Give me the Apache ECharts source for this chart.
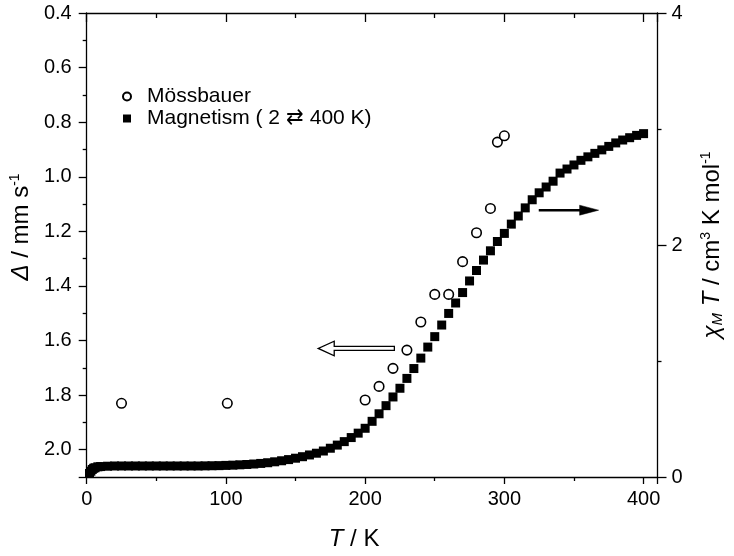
<!DOCTYPE html>
<html>
<head>
<meta charset="utf-8">
<script src="https://cdn.jsdelivr.net/npm/echarts@6/dist/echarts.min.js"></script>
<style>html,body{margin:0;padding:0;background:#fff;}#c{width:734px;height:556px;}</style>
</head>
<body>
<div id="c"></div>
<script>
// Mössbauer quadrupole splitting (left axis, inverted)
var mossT = [25, 101, 200, 210, 220, 230, 240, 250, 260, 270, 280, 290, 295, 300];
var mossDelta = [1.83, 1.83, 1.818, 1.768, 1.702, 1.635, 1.532, 1.431, 1.431, 1.311, 1.205, 1.116, 0.873, 0.850];

// Magnetism chiM*T (right axis)
var magT = [2, 3, 4, 5, 6, 8, 10, 15, 20, 25, 30, 35, 40, 45, 50, 55, 60, 65, 70, 75, 80, 85, 90, 95, 100,
  105, 110, 115, 120, 125, 130, 135, 140, 145, 150, 155, 160, 165, 170, 175, 180, 185, 190, 195, 200,
  205, 210, 215, 220, 225, 230, 235, 240, 245, 250, 255, 260, 265, 270, 275, 280, 285, 290, 295, 300,
  305, 310, 315, 320, 325, 330, 335, 340, 345, 350, 355, 360, 365, 370, 375, 380, 385, 390, 395, 400];
var magChiT = [0.03, 0.05, 0.065, 0.075, 0.08, 0.088, 0.09, 0.093, 0.095, 0.095, 0.095, 0.095, 0.095, 0.095, 0.095, 0.095, 0.095, 0.095, 0.095, 0.095, 0.095, 0.096, 0.097, 0.098, 0.1,
  0.102, 0.105, 0.108, 0.112, 0.117, 0.123, 0.131, 0.14, 0.15, 0.162, 0.175, 0.19, 0.205, 0.224, 0.248, 0.275, 0.305, 0.34, 0.378, 0.42,
  0.48, 0.545, 0.615, 0.69, 0.765, 0.85, 0.935, 1.025, 1.12, 1.21, 1.31, 1.41, 1.5, 1.59, 1.69, 1.78, 1.87, 1.95, 2.03, 2.1,
  2.18, 2.25, 2.32, 2.39, 2.45, 2.5, 2.55, 2.62, 2.655, 2.69, 2.73, 2.76, 2.79, 2.82, 2.85, 2.88, 2.905, 2.925, 2.945, 2.96];

// axis ranges / tick steps
var xRange = [0, 410], xStep = 100, xLastLabel = 400;
var leftRange = [0.4, 2.1], leftStep = 0.2, leftLastLabel = 2.0;
var rightRange = [0, 4], rightStep = 2;

// annotation arrows: [x from, y, x to]
var hollowArrow = [[221, 1.629, 166.3]];   // points to left axis
var solidArrow = [[324.7, 2.30, 367.7]];   // points to right axis

var legendNames = ['Mössbauer', 'Magnetism ( 2 \u21C4 400 K)'];

var FONT = '"Liberation Sans", Arial, sans-serif';

function zip(a, b) { return a.map(function (v, i) { return [v, b[i]]; }); }

var chart = echarts.init(document.getElementById('c'), null, { renderer: 'canvas' });

var lineSt = { color: '#000', width: 1.3 };
var axisLine = { show: true, onZero: false, lineStyle: lineSt };

chart.setOption({
  backgroundColor: '#fff',
  animation: false,
  grid: { left: 86, right: 76.5, top: 13, bottom: 78, containLabel: false },
  legend: {
    orient: 'vertical',
    left: 117,
    top: 81,
    itemWidth: 8,
    itemHeight: 8,
    itemGap: 1,
    data: legendNames,
    textStyle: { fontFamily: FONT, fontSize: 21, color: '#000', padding: [0, 0, 0, 11] },
    selectedMode: false
  },
  xAxis: [{
    type: 'value', position: 'bottom', min: xRange[0], max: xRange[1], interval: xStep,
    name: '{i|T} / K', nameLocation: 'middle', nameGap: 50,
    nameTextStyle: {
      fontFamily: FONT, fontSize: 24, color: '#000', padding: [0, 36, 0, 0],
      rich: { i: { fontFamily: FONT, fontSize: 24, fontStyle: 'italic', color: '#000' } }
    },
    axisLine: axisLine,
    axisTick: { show: true, inside: false, length: 7, lineStyle: lineSt },
    minorTick: { show: true, splitNumber: 2, length: 4, lineStyle: lineSt },
    axisLabel: {
      fontFamily: FONT, fontSize: 20, color: '#000', margin: 12,
      formatter: function (v) { return v > xLastLabel ? '' : String(v); }
    },
    splitLine: { show: false }, minorSplitLine: { show: false }
  }, {
    type: 'value', position: 'top', min: xRange[0], max: xRange[1], interval: xStep,
    axisLine: axisLine,
    axisTick: { show: true, inside: true, length: 9, lineStyle: lineSt },
    minorTick: { show: true, splitNumber: 2, length: 5, lineStyle: lineSt },
    axisLabel: { show: false },
    splitLine: { show: false }
  }],
  yAxis: [{
    type: 'value', position: 'left', inverse: true, min: leftRange[0], max: leftRange[1], interval: leftStep,
    name: '{i|\u0394} / mm s{sup|-1}', nameLocation: 'middle', nameGap: 52,
    nameTextStyle: {
      fontFamily: FONT, fontSize: 24, color: '#000', padding: [0, 0, 0, 36],
      rich: {
        i: { fontFamily: FONT, fontSize: 24, fontStyle: 'italic', color: '#000' },
        sup: { fontFamily: FONT, fontSize: 14, color: '#000', verticalAlign: 'top', padding: [0, 0, 12, 0] }
      }
    },
    axisLine: axisLine,
    axisTick: { show: true, inside: false, length: 8, lineStyle: lineSt },
    minorTick: { show: true, splitNumber: 2, length: 4, lineStyle: lineSt },
    axisLabel: {
      fontFamily: FONT, fontSize: 20, color: '#000', margin: 15,
      formatter: function (v) { return v > leftLastLabel + 1e-6 ? '' : v.toFixed(1); }
    },
    splitLine: { show: false }
  }, {
    type: 'value', position: 'right', min: rightRange[0], max: rightRange[1], interval: rightStep,
    name: '{i|\u03C7}{sub|M}{i| T} / cm{sup|3} K mol{sup|-1}', nameLocation: 'middle', nameGap: 42,
    nameTextStyle: {
      fontFamily: FONT, fontSize: 24, color: '#000',
      rich: {
        i: { fontFamily: FONT, fontSize: 24, fontStyle: 'italic', color: '#000' },
        sub: { fontFamily: FONT, fontSize: 15, fontStyle: 'italic', color: '#000', verticalAlign: 'bottom', padding: [10, 0, 0, 0] },
        sup: { fontFamily: FONT, fontSize: 14, color: '#000', verticalAlign: 'top', padding: [0, 0, 12, 0] }
      }
    },
    axisLine: axisLine,
    axisTick: { show: true, inside: false, length: 9, lineStyle: lineSt },
    minorTick: { show: true, splitNumber: 2, length: 4, lineStyle: lineSt },
    axisLabel: { fontFamily: FONT, fontSize: 20, color: '#000', margin: 14 },
    splitLine: { show: false }
  }],
  series: [{
    name: legendNames[1],
    type: 'scatter', xAxisIndex: 0, yAxisIndex: 1,
    symbol: 'rect', symbolSize: 9,
    itemStyle: { color: '#000', opacity: 1 },
    data: zip(magT, magChiT),
    z: 2
  }, {
    name: legendNames[0],
    type: 'scatter', xAxisIndex: 0, yAxisIndex: 0,
    symbol: 'circle', symbolSize: 9.5,
    itemStyle: { color: '#fff', borderColor: '#000', borderWidth: 1.6, opacity: 1 },
    data: zip(mossT, mossDelta),
    z: 3
  }, {
    type: 'custom', xAxisIndex: 0, yAxisIndex: 0, silent: true, clip: false,
    encode: { x: [0, 2], y: 1 },
    data: hollowArrow,
    renderItem: function (params, api) {
      var p0 = api.coord([api.value(0), api.value(1)]);
      var p1 = api.coord([api.value(2), api.value(1)]);
      var d = p1[0] > p0[0] ? 1 : -1, y = p0[1], hb = p1[0] - d * 16;
      return {
        type: 'polygon',
        shape: { points: [[p0[0], y - 2], [hb, y - 2], [hb, y - 7.3], [p1[0], y], [hb, y + 7.3], [hb, y + 2], [p0[0], y + 2]] },
        style: { fill: '#fff', stroke: '#000', lineWidth: 1.3 }
      };
    },
    z: 4
  }, {
    type: 'custom', xAxisIndex: 0, yAxisIndex: 1, silent: true, clip: false,
    encode: { x: [0, 2], y: 1 },
    data: solidArrow,
    renderItem: function (params, api) {
      var p0 = api.coord([api.value(0), api.value(1)]);
      var p1 = api.coord([api.value(2), api.value(1)]);
      var d = p1[0] > p0[0] ? 1 : -1, y = p0[1], hb = p1[0] - d * 19;
      return {
        type: 'group',
        children: [{
          type: 'line',
          shape: { x1: p0[0], y1: y, x2: hb + d * 2, y2: y },
          style: { stroke: '#000', lineWidth: 2.6 }
        }, {
          type: 'polygon',
          shape: { points: [[hb, y - 5], [p1[0], y], [hb, y + 5]] },
          style: { fill: '#000', stroke: '#000', lineWidth: 0.5 }
        }]
      };
    },
    z: 4
  }]
});
</script>
</body>
</html>
